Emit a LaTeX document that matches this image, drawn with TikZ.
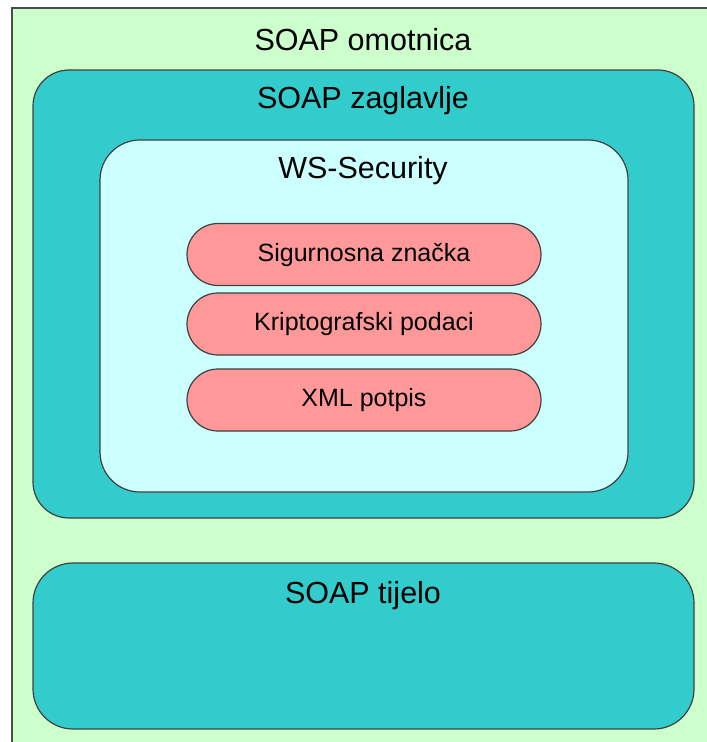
\documentclass[tikz,border=0pt]{standalone}
\usepackage{fontspec}
\setmainfont{Liberation Sans}
\tikzset{
  boxline/.style={draw=black!75,line width=1.2pt},
  bigbox/.style={boxline,fill=headteal,rounded corners=36pt,inner sep=0pt},
  wsbox/.style={boxline,fill=lightcyan,rounded corners=40pt,inner sep=0pt},
  pill/.style={boxline,fill=pinkred,rounded corners=31pt,inner sep=0pt,
    minimum width=354pt,minimum height=62pt,font=\fontsize{25}{29}\selectfont},
  title/.style={font=\fontsize{30.5}{36}\selectfont,inner sep=0pt}
}
\definecolor{envgreen}{HTML}{CCFFCC}
\definecolor{headteal}{HTML}{33CCCC}
\definecolor{lightcyan}{HTML}{CCFFFF}
\definecolor{pinkred}{HTML}{FF9999}
\begin{document}
\begin{tikzpicture}[x=1pt,y=-1pt]
        \useasboundingbox (0,0) rectangle (707,742);
        \clip (0,0) rectangle (707,742);
        % envelope
        \fill[envgreen] (12,8) rectangle (720,760);
        \draw[draw=black!70,line width=2pt] (12,760) -- (12,8) -- (720,8);
        \node [title] (omotnica) at (363,40) {SOAP omotnica};
        % header
        \node [bigbox,minimum width=661pt,minimum height=448pt] (zaglavlje) at (363.5,294) {};
        \node [title] (zaglavljeTxt) at (363,101) {SOAP zaglavlje};
        % WS-Security
        \node [wsbox,minimum width=528pt,minimum height=352pt] (security) at (364,316) {};
        \node [title] (securityTxt) at (363,171) {WS-Security};
        \node [pill] (znacka) at (364,254.5) {Sigurnosna značka};
        \node [pill] (podaci) at (364,324) {Kriptografski podaci};
        \node [pill] (potpis) at (364,400) {XML potpis};
        % body
        \node [bigbox,rounded corners=40pt,minimum width=661pt,minimum height=166pt] (tijelo) at (363.5,646) {};
        \node [title] (tijeloTxt) at (363,596) {SOAP tijelo};
      \end{tikzpicture}
\end{document}
